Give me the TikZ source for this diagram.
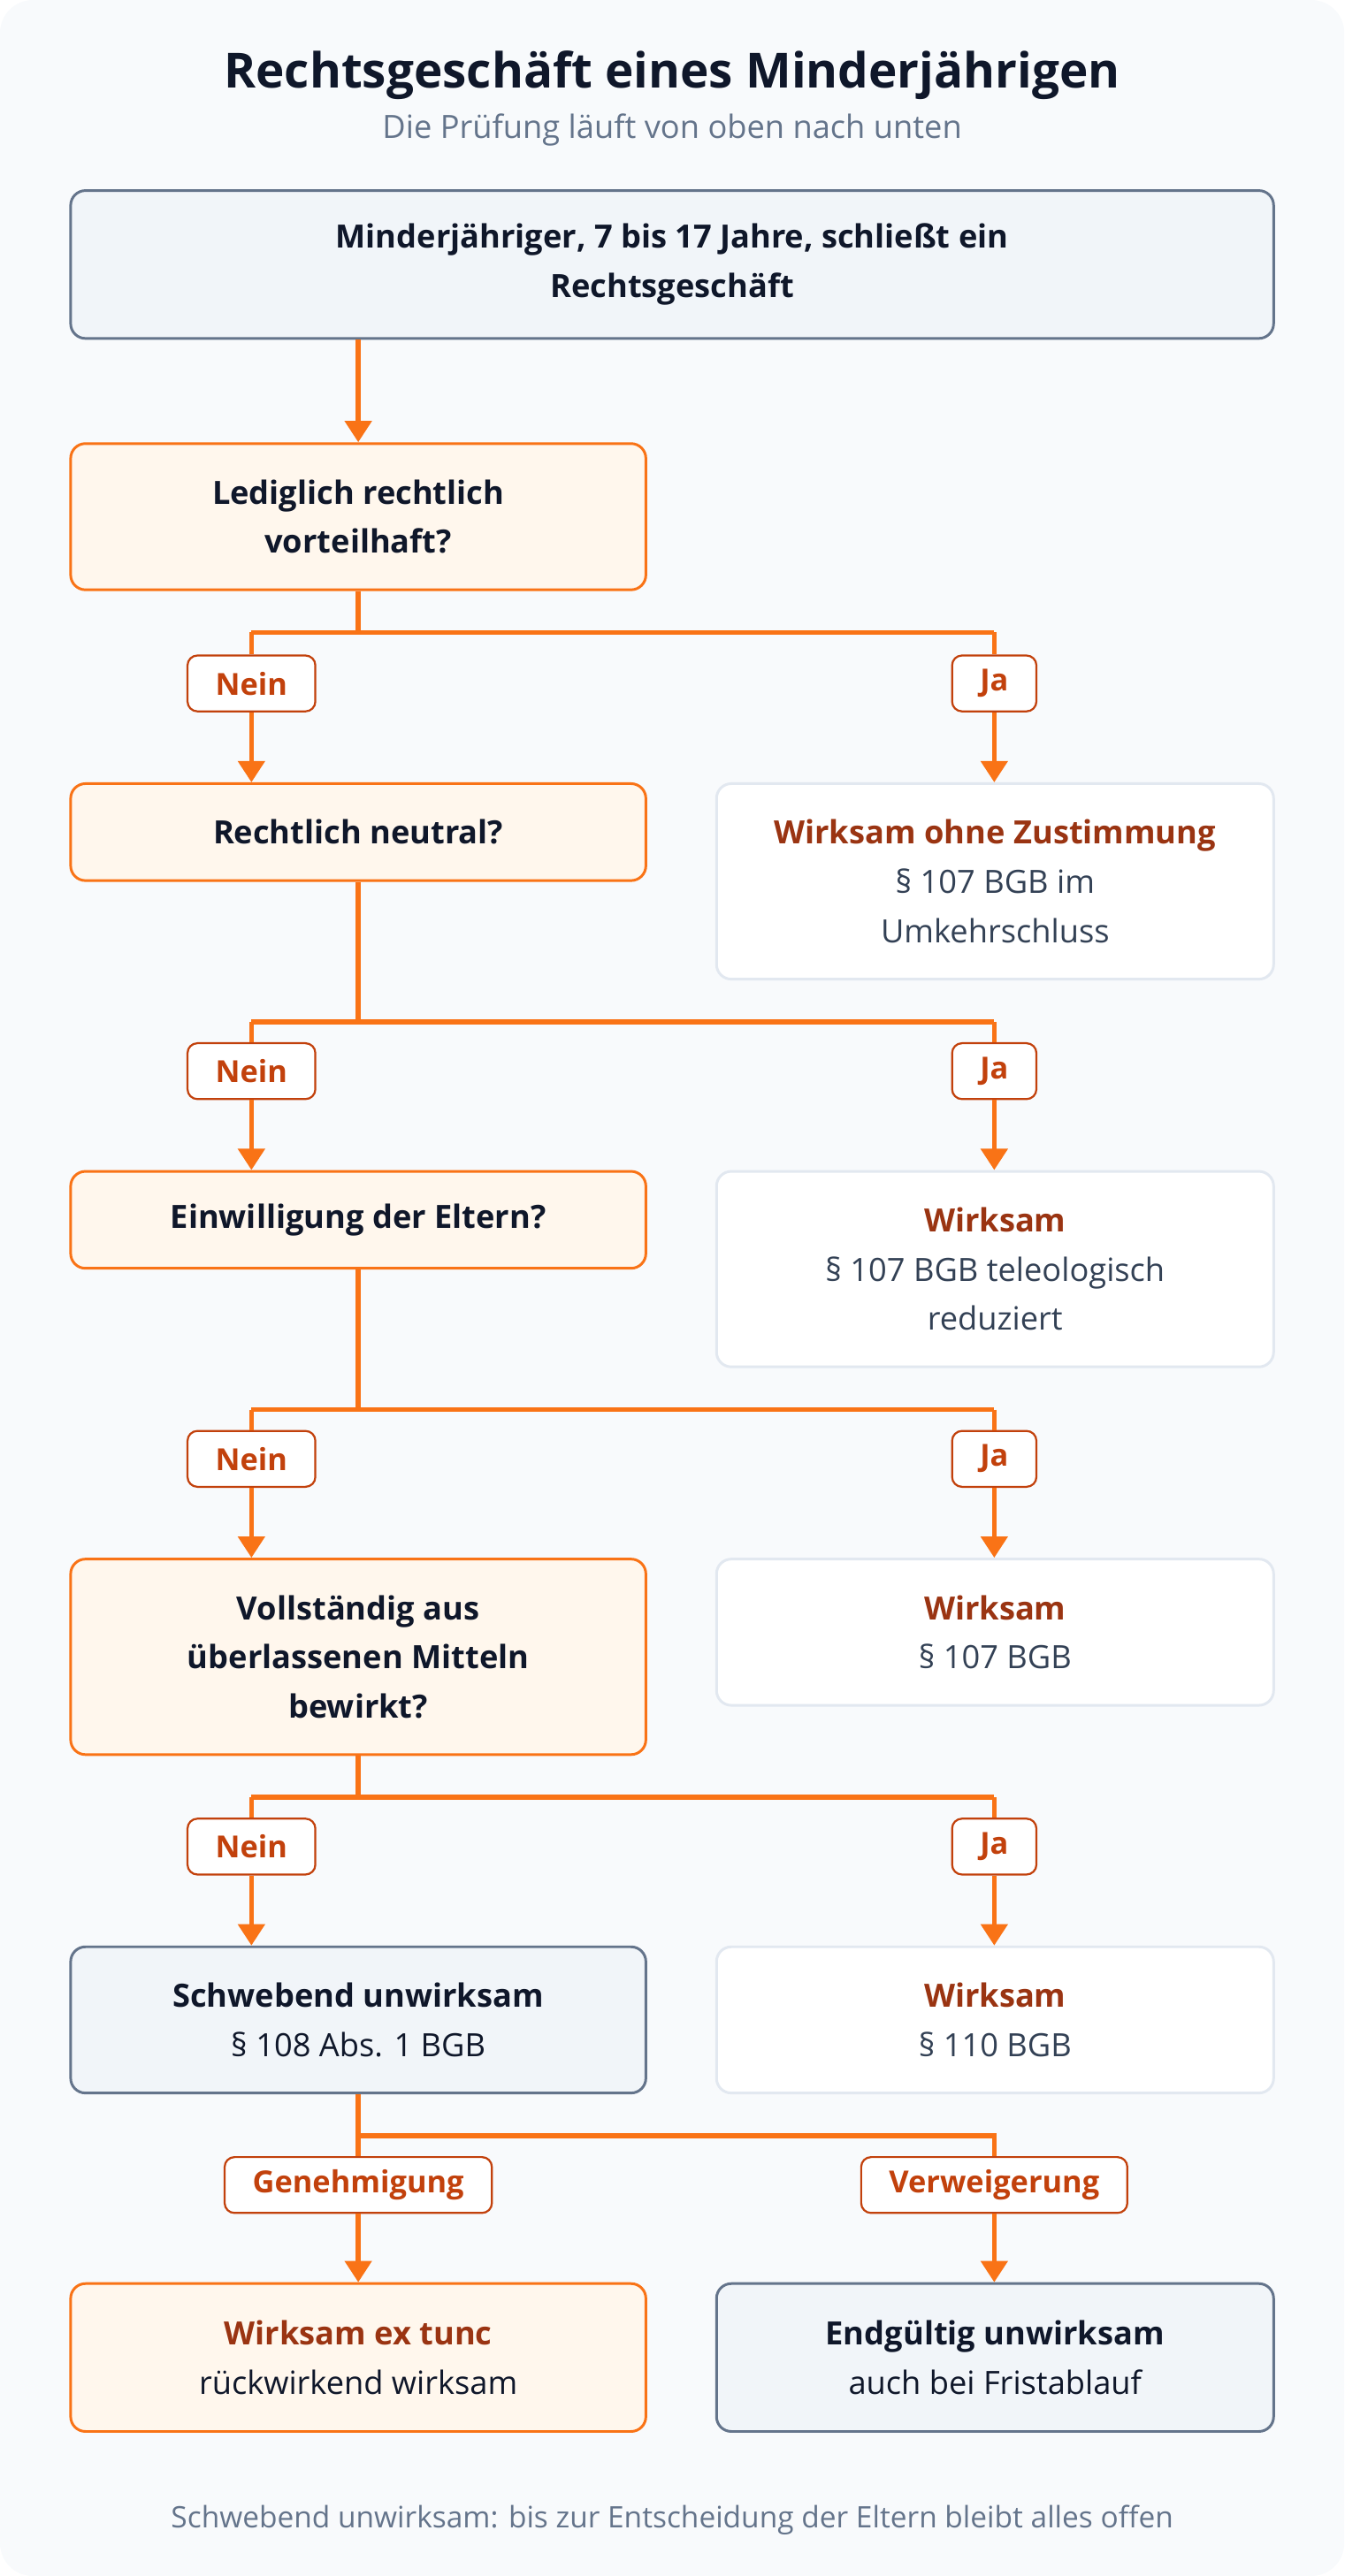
\documentclass[tikz,border=0pt]{standalone}
\usepackage{fontspec}
\setmainfont{Open Sans}
\usetikzlibrary{positioning,arrows.meta}
\definecolor{bgpage}{HTML}{F8FAFC}
\definecolor{darktext}{HTML}{0F172A}
\definecolor{graytext}{HTML}{64748B}
\definecolor{bodytext}{HTML}{334155}
\definecolor{flow}{HTML}{F97316}
\definecolor{flowlight}{HTML}{FFF7ED}
\definecolor{slatefill}{HTML}{F1F5F9}
\definecolor{slateline}{HTML}{64748B}
\definecolor{paleline}{HTML}{E2E8F0}
\definecolor{tagred}{HTML}{C2410C}
\definecolor{headred}{HTML}{9A3412}
\tikzset{
		>=Triangle
	}
\begin{document}
\begin{tikzpicture}
		[x=1pt,y=-1pt,
		box/.style= {rounded corners=9pt, line width=1.6pt, align=center, text=darktext,
			font=\fontsize{19.5}{30}\selectfont},
		ask/.style= {box, draw=flow, fill=flowlight, minimum width=350pt, font=\fontsize{19.5}{30}\selectfont\bfseries},
		grey/.style= {box, draw=slateline, fill=slatefill},
		res/.style= {box, draw=paleline, fill=white, minimum width=339pt, text=bodytext},
		tag/.style= {rounded corners=6pt, draw=tagred, fill=white, line width=1.2pt, text=tagred,
			font=\fontsize{18.5}{20}\selectfont\bfseries, minimum height=34pt, inner xsep=17pt},
		line/.style= {flow, line width=3pt},
		arr/.style= {line, -{Triangle[length=13pt,width=16pt]}}
		]
		\fill[bgpage, rounded corners=20pt] (0,0) rectangle (818,1568);
		\useasboundingbox (0,0) rectangle (818,1568);

		\node (title) at (409,46) [text=darktext, font=\fontsize{29.5}{32}\selectfont\bfseries] {Rechtsgeschäft eines Minderjährigen};
		\node (sub) at (409,79) [text=graytext, font=\fontsize{19.5}{22}\selectfont] {Die Prüfung läuft von oben nach unten};

		\node [grey, minimum width=732pt, minimum height=90pt, font=\fontsize{19.5}{30}\selectfont\bfseries] (start) at (409,161) {Minderjähriger, 7 bis 17 Jahre, schließt ein\\Rechtsgeschäft};

		\node [ask, minimum height=89pt] (Q1) at (218,314.5) {Lediglich rechtlich\\vorteilhaft?};
		\node [ask, minimum height=59pt] (Q2) at (218,506.5) {Rechtlich neutral?};
		\node [ask, minimum height=59pt] (Q3) at (218,742.5) {Einwilligung der Eltern?};
		\node [ask, minimum height=119pt] (Q4) at (218,1008.5) {Vollständig aus\\überlassenen Mitteln\\bewirkt?};
		\node [grey, minimum width=350pt, minimum height=89pt] (Q5) at (218,1229.5) {\textbf{Schwebend unwirksam}\\§ 108 Abs. 1 BGB};

		\node [res, minimum height=119pt] (R1) at (605.5,536.5) {\textcolor{headred}{\bfseries Wirksam ohne Zustimmung}\\§ 107 BGB im\\Umkehrschluss};
		\node [res, minimum height=119pt] (R2) at (605.5,772.5) {\textcolor{headred}{\bfseries Wirksam}\\§ 107 BGB teleologisch\\reduziert};
		\node [res, minimum height=89pt] (R3) at (605.5,993.5) {\textcolor{headred}{\bfseries Wirksam}\\§ 107 BGB};
		\node [res, minimum height=89pt] (R4) at (605.5,1229.5) {\textcolor{headred}{\bfseries Wirksam}\\§ 110 BGB};

		\node [box, draw=flow, fill=flowlight, minimum width=350pt, minimum height=90pt] (F1) at (218,1435) {\textcolor{headred}{\bfseries Wirksam ex tunc}\\rückwirkend wirksam};
		\node [grey, minimum width=339pt, minimum height=90pt] (F2) at (605.5,1435) {\textbf{Endgültig unwirksam}\\auch bei Fristablauf};

		\draw [arr] (start.south -| Q1) -- (Q1);

		% Nein / Ja branches
		\coordinate (J1) at (218,385);
		\coordinate (J2) at (218,622);
		\coordinate (J3) at (218,858);
		\coordinate (J4) at (218,1094);
		\node [tag] (N1) at (153,416) {Nein};
		\node [tag] (Y1) at (605,416) {Ja};
		\node [tag] (N2) at (153,652) {Nein};
		\node [tag] (Y2) at (605,652) {Ja};
		\node [tag] (N3) at (153,888) {Nein};
		\node [tag] (Y3) at (605,888) {Ja};
		\node [tag] (N4) at (153,1124) {Nein};
		\node [tag] (Y4) at (605,1124) {Ja};

		\draw [line] (Q1) -- (J1); \draw [line] (N1 |- J1) -- (Y1 |- J1);
		\draw [line] (N1 |- J1) -- (N1); \draw [line] (Y1 |- J1) -- (Y1);
		\draw [arr] (N1) -- (N1 |- Q2.north); \draw [arr] (Y1) -- (Y1 |- R1.north);

		\draw [line] (Q2) -- (J2); \draw [line] (N2 |- J2) -- (Y2 |- J2);
		\draw [line] (N2 |- J2) -- (N2); \draw [line] (Y2 |- J2) -- (Y2);
		\draw [arr] (N2) -- (N2 |- Q3.north); \draw [arr] (Y2) -- (Y2 |- R2.north);

		\draw [line] (Q3) -- (J3); \draw [line] (N3 |- J3) -- (Y3 |- J3);
		\draw [line] (N3 |- J3) -- (N3); \draw [line] (Y3 |- J3) -- (Y3);
		\draw [arr] (N3) -- (N3 |- Q4.north); \draw [arr] (Y3) -- (Y3 |- R3.north);

		\draw [line] (Q4) -- (J4); \draw [line] (N4 |- J4) -- (Y4 |- J4);
		\draw [line] (N4 |- J4) -- (N4); \draw [line] (Y4 |- J4) -- (Y4);
		\draw [arr] (N4) -- (N4 |- Q5.north); \draw [arr] (Y4) -- (Y4 |- R4.north);

		% Genehmigung / Verweigerung
		\coordinate (J5) at (218,1300);
		\node [tag] (G) at (218,1330) {Genehmigung};
		\node [tag] (V) at (605,1330) {Verweigerung};
		\draw [line] (Q5) -- (G); \draw [line] (J5) -- (V |- J5) -- (V);
		\draw [arr] (G) -- (F1); \draw [arr] (V) -- (V |- F2.north);

		\node (foot) at (409,1534) [text=graytext, font=\fontsize{18}{20}\selectfont] {Schwebend unwirksam: bis zur Entscheidung der Eltern bleibt alles offen};
	\end{tikzpicture}
\end{document}
